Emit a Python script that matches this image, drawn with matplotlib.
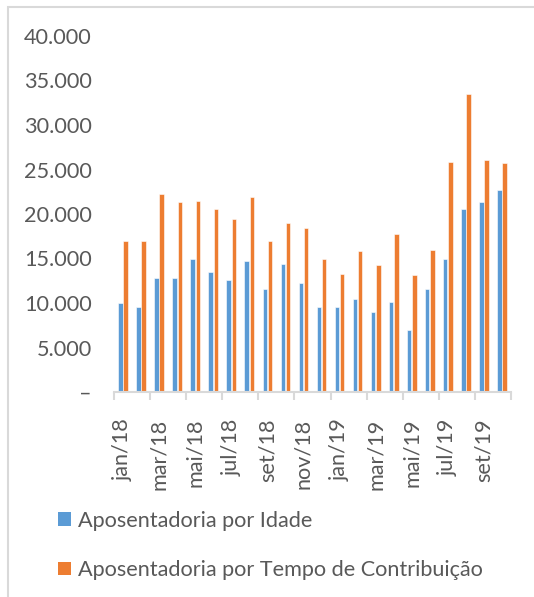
import numpy as np
import matplotlib
matplotlib.use("Agg")
import matplotlib.pyplot as plt
from matplotlib.patches import Rectangle, Patch
from matplotlib.ticker import FuncFormatter

# dados (jan/18 a out/19)
meses = ["jan/18", "fev/18", "mar/18", "abr/18", "mai/18", "jun/18",
         "jul/18", "ago/18", "set/18", "out/18", "nov/18", "dez/18",
         "jan/19", "fev/19", "mar/19", "abr/19", "mai/19", "jun/19",
         "jul/19", "ago/19", "set/19", "out/19"]
idade = [10000, 9500, 12850, 12850, 15000, 13500, 12600, 14750, 11600, 14400,
         12300, 9600, 9550, 10450, 8950, 10150, 6970, 11570, 15000, 20600,
         21400, 22700]
tempo = [17000, 17000, 22300, 21300, 21450, 20550, 19400, 21900, 17000, 19000,
         18400, 14900, 13300, 15850, 14270, 17750, 13150, 16000, 25850, 33500,
         26050, 25700]
nomes = ["Aposentadoria por Idade", "Aposentadoria por Tempo de Contribuição"]

azul = "#5B9BD5"
laranja = "#ED7D31"
cinza = "#595959"
linha = "#D9D9D9"

plt.rcParams["font.family"] = ["Lato", "DejaVu Sans"]
plt.rcParams["font.size"] = 15.6

W, H = 534, 597
fig = plt.figure(figsize=(W / 100, H / 100), dpi=100)
ax = fig.add_axes([114 / W, 1 - 392 / H, (511 - 114) / W, (392 - 36) / H])

x = np.arange(len(meses))
ax.bar(x - 0.145, idade, width=0.25, color=azul, edgecolor="white", linewidth=0.4)
ax.bar(x + 0.145, tempo, width=0.25, color=laranja, edgecolor="white", linewidth=0.4)

ax.set_xlim(-0.5, len(meses) - 0.5)
ax.set_ylim(0, 40000)
ax.set_yticks(np.arange(0, 40001, 5000))


def fmt(v, pos):
    if v == 0:
        return "–"
    return f"{int(v):,}".replace(",", ".")


ax.yaxis.set_major_formatter(FuncFormatter(fmt))
ax.tick_params(axis="y", length=0, pad=16, labelcolor=cinza)

ax.set_xticks(x[::2])
ax.set_xticklabels(meses[::2], rotation=90)
ax.set_xticks(np.arange(-0.5, len(meses), 2), minor=True)
ax.tick_params(axis="x", which="major", length=0, pad=19, labelcolor=cinza)
ax.tick_params(axis="x", which="minor", length=6, width=1.5, color=linha)

for s in ["top", "right", "left"]:
    ax.spines[s].set_visible(False)
ax.spines["bottom"].set_color(linha)
ax.spines["bottom"].set_linewidth(1.5)

handles = [Patch(facecolor=azul), Patch(facecolor=laranja)]
fig.legend(handles, nomes, loc="upper left", bbox_to_anchor=(58 / W, 1 - 511 / H),
           frameon=False, handlelength=0.6, handleheight=0.6, handletextpad=0.3,
           labelspacing=1.35, labelcolor=cinza, borderpad=0, borderaxespad=0)

# moldura da área do gráfico
fig.patches.append(Rectangle((7.5 / W, -0.1), 1.2, 1 - 6.5 / H + 0.1,
                             transform=fig.transFigure, fill=False,
                             edgecolor=linha, linewidth=1.5))

fig.savefig("out.png", dpi=100)
